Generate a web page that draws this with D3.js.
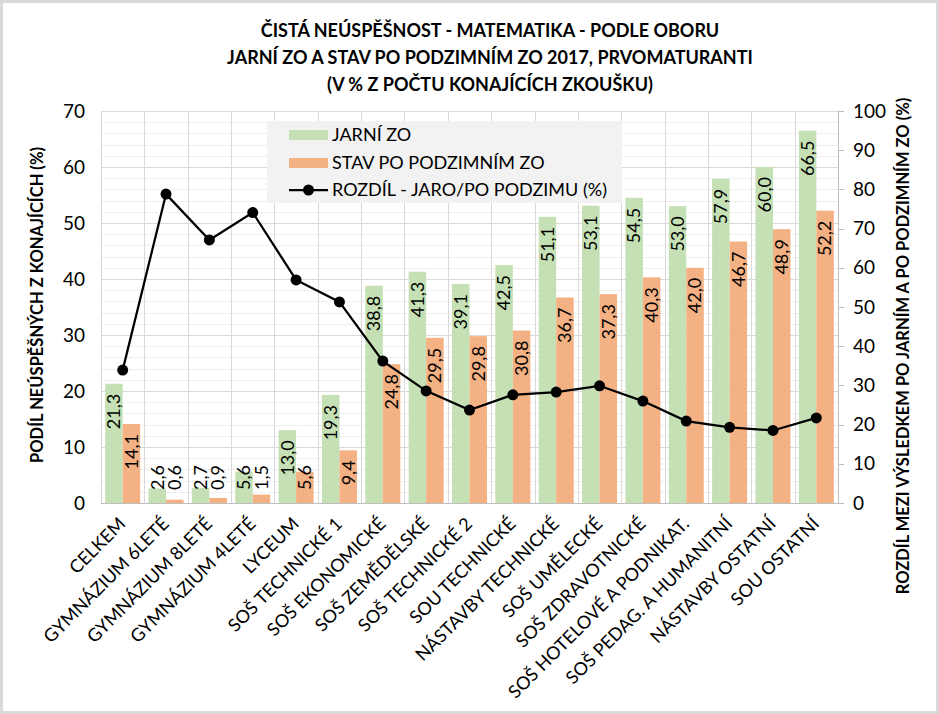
<!DOCTYPE html>
<html lang="cs">
<head>
<meta charset="utf-8">
<title>Čistá neúspěšnost - matematika</title>
<script src="https://d3js.org/d3.v7.min.js"></script>
<style>
  body { margin: 0; background: #fff; }
  text { font-family: Lato, "Open Sans", sans-serif; fill: #000; }
</style>
</head>
<body>
<script>
// data
var obory = ["CELKEM", "GYMNÁZIUM 6LETÉ", "GYMNÁZIUM 8LETÉ", "GYMNÁZIUM 4LETÉ", "LYCEUM",
  "SOŠ TECHNICKÉ 1", "SOŠ EKONOMICKÉ", "SOŠ ZEMĚDĚLSKÉ", "SOŠ TECHNICKÉ 2", "SOU TECHNICKÉ",
  "NÁSTAVBY TECHNICKÉ", "SOŠ UMĚLECKÉ", "SOŠ ZDRAVOTNICKÉ", "SOŠ HOTELOVÉ A PODNIKAT.",
  "SOŠ PEDAG. A HUMANITNÍ", "NÁSTAVBY OSTATNÍ", "SOU OSTATNÍ"]
var jarni = [21.3, 2.6, 2.7, 5.6, 13.0, 19.3, 38.8, 41.3, 39.1, 42.5, 51.1, 53.1, 54.5, 53.0, 57.9, 60.0, 66.5]
var podzim = [14.1, 0.6, 0.9, 1.5, 5.6, 9.4, 24.8, 29.5, 29.8, 30.8, 36.7, 37.3, 40.3, 42.0, 46.7, 48.9, 52.2]
var rozdil = [33.9, 78.8, 67.1, 74.1, 56.9, 51.3, 36.2, 28.6, 23.7, 27.6, 28.3, 29.9, 26.0, 20.9, 19.3, 18.5, 21.7]
var leftTicks = [0, 10, 20, 30, 40, 50, 60, 70]
var rightTicks = [0, 10, 20, 30, 40, 50, 60, 70, 80, 90, 100]
var titleLines = ["ČISTÁ NEÚSPĚŠNOST - MATEMATIKA - PODLE OBORU",
  "JARNÍ ZO A STAV PO PODZIMNÍM ZO 2017, PRVOMATURANTI",
  "(V % Z POČTU KONAJÍCÍCH ZKOUŠKU)"]
var legendNames = ["JARNÍ ZO", "STAV PO PODZIMNÍM ZO", "ROZDÍL - JARO/PO PODZIMU (%)"]

var W = 939, H = 714
var x0 = 101, x1 = 838, yTop = 111, yBot = 503
var green = "#c5e0b4", orange = "#f4b183"

var svg = d3.select("body").append("svg")
  .attr("width", W).attr("height", H)

svg.append("rect")
  .attr("x", 1.5).attr("y", 1.5).attr("width", W - 3).attr("height", H - 3)
  .attr("fill", "#fff").attr("stroke", "#d9d9d9").attr("stroke-width", 3)

var x = d3.scaleBand().domain(obory).range([x0, x1]).paddingInner(0).paddingOuter(0)
var yL = d3.scaleLinear().domain([0, 70]).range([yBot, yTop])
var yR = d3.scaleLinear().domain([0, 100]).range([yBot, yTop])
var fmt = function(v) { return d3.format(".1f")(v).replace(".", ",") }

// minor grid
svg.append("g").selectAll("line")
  .data(d3.range(0, 71, 2).filter(function(v) { return v % 10 != 0 }))
  .enter().append("line")
  .attr("x1", x0).attr("x2", x1)
  .attr("y1", function(d) { return Math.round(yL(d)) + 0.5 })
  .attr("y2", function(d) { return Math.round(yL(d)) + 0.5 })
  .attr("stroke", "#efefef").attr("stroke-width", 1)

// vertical grid
svg.append("g").selectAll("line")
  .data(obory.slice(1))
  .enter().append("line")
  .attr("x1", function(d) { return Math.round(x(d)) + 0.5 })
  .attr("x2", function(d) { return Math.round(x(d)) + 0.5 })
  .attr("y1", yTop).attr("y2", yBot)
  .attr("stroke", "#d9d9d9")

// major grid
svg.append("g").selectAll("line")
  .data(leftTicks.slice(1))
  .enter().append("line")
  .attr("x1", x0).attr("x2", x1)
  .attr("y1", function(d) { return Math.round(yL(d)) + 0.5 })
  .attr("y2", function(d) { return Math.round(yL(d)) + 0.5 })
  .attr("stroke", "#d9d9d9")

svg.append("line").attr("x1", x0 + 0.5).attr("x2", x0 + 0.5).attr("y1", yTop).attr("y2", yBot)
  .attr("stroke", "#d9d9d9")

// bars
var bw = 17.5
var bars = svg.append("g")
obory.forEach(function(c, i) {
  var cx = x(c) + x.bandwidth() / 2
  bars.append("rect").attr("x", cx - bw).attr("width", bw)
    .attr("y", yL(jarni[i])).attr("height", yBot - yL(jarni[i])).attr("fill", green)
  bars.append("rect").attr("x", cx).attr("width", bw)
    .attr("y", yL(podzim[i])).attr("height", yBot - yL(podzim[i])).attr("fill", orange)
})

// axis line
svg.append("line").attr("x1", x0).attr("x2", x1).attr("y1", yBot + 0.5).attr("y2", yBot + 0.5)
  .attr("stroke", "#bfbfbf")

// right axis
svg.append("line").attr("x1", x1 + 0.5).attr("x2", x1 + 0.5).attr("y1", yTop).attr("y2", yBot)
  .attr("stroke", "#bfbfbf")
svg.append("g").selectAll("line").data(rightTicks).enter().append("line")
  .attr("x1", x1).attr("x2", x1 + 6)
  .attr("y1", function(d) { return Math.round(yR(d)) + 0.5 })
  .attr("y2", function(d) { return Math.round(yR(d)) + 0.5 })
  .attr("stroke", "#bfbfbf")
svg.append("g").selectAll("text").data(rightTicks).enter().append("text")
  .attr("x", 853).attr("y", function(d) { return yR(d) }).attr("dy", "0.35em")
  .style("font-size", "19px").text(function(d) { return d })

// left ticks
svg.append("g").selectAll("text").data(leftTicks).enter().append("text")
  .attr("x", 85).attr("y", function(d) { return yL(d) }).attr("dy", "0.35em")
  .attr("text-anchor", "end").style("font-size", "19px").text(function(d) { return d })

// category labels
svg.append("g").selectAll("text").data(obory).enter().append("text")
  .attr("transform", function(d) {
    return "translate(" + (x(d) + x.bandwidth() / 2 + 4) + "," + (yBot + 22) + ") rotate(-45)"
  })
  .attr("text-anchor", "end").style("font-size", "18px").text(function(d) { return d })

// line
var line = d3.line()
  .x(function(d, i) { return x(obory[i]) + x.bandwidth() / 2 })
  .y(function(d) { return yR(d) })
svg.append("path").datum(rozdil).attr("d", line)
  .attr("fill", "none").attr("stroke", "#000").attr("stroke-width", 2.25)
svg.append("g").selectAll("circle").data(rozdil).enter().append("circle")
  .attr("cx", function(d, i) { return x(obory[i]) + x.bandwidth() / 2 })
  .attr("cy", function(d) { return yR(d) }).attr("r", 5.5).attr("fill", "#000")

// bar labels
var lab = svg.append("g")
function barLabel(v, cx) {
  var t = lab.append("text").style("font-size", "18px").attr("text-anchor", "end").text(fmt(v))
  var len = t.node().getComputedTextLength()
  var endY = Math.min(yL(v) + 10, yBot - 13 - len)
  t.attr("transform", "translate(" + cx + "," + endY + ") rotate(-90)").attr("dy", "0.35em")
}
obory.forEach(function(c, i) {
  var cx = x(c) + x.bandwidth() / 2
  barLabel(jarni[i], cx - bw / 2)
  barLabel(podzim[i], cx + bw / 2)
})

// legend
var lg = svg.append("g")
lg.append("rect").attr("x", 267).attr("y", 121).attr("width", 355).attr("height", 82).attr("fill", "#f2f2f2")
var rowY = [135, 163, 190]
lg.append("rect").attr("x", 289).attr("y", rowY[0] - 5).attr("width", 39).attr("height", 10).attr("fill", green)
lg.append("rect").attr("x", 289).attr("y", rowY[1] - 5).attr("width", 39).attr("height", 10).attr("fill", orange)
lg.append("line").attr("x1", 289).attr("x2", 328).attr("y1", rowY[2]).attr("y2", rowY[2])
  .attr("stroke", "#000").attr("stroke-width", 2.25)
lg.append("circle").attr("cx", 308.5).attr("cy", rowY[2]).attr("r", 5.5).attr("fill", "#000")
lg.selectAll("text.lg").data(legendNames).enter().append("text")
  .attr("x", 332).attr("y", function(d, i) { return rowY[i] }).attr("dy", "0.35em")
  .style("font-size", "18px").text(function(d) { return d })

// title
svg.append("g").selectAll("text").data(titleLines).enter().append("text")
  .attr("x", 490).attr("y", function(d, i) { return 31 + i * 27 }).attr("dy", "0.35em")
  .attr("text-anchor", "middle").style("font-size", "18px").style("font-weight", "bold")
  .text(function(d) { return d })

// axis titles
svg.append("text").attr("transform", "translate(37,305) rotate(-90)").attr("dy", "0.35em")
  .attr("text-anchor", "middle").style("font-size", "16.5px").style("font-weight", "bold")
  .text("PODÍL NEÚSPĚŠNÝCH Z KONAJÍCÍCH (%)")
svg.append("text").attr("transform", "translate(903,346) rotate(-90)").attr("dy", "0.35em")
  .attr("text-anchor", "middle").style("font-size", "16.5px").style("font-weight", "bold")
  .text("ROZDÍL MEZI VÝSLEDKEM PO JARNÍM A PO PODZIMNÍM ZO (%)")
</script>
</body>
</html>
